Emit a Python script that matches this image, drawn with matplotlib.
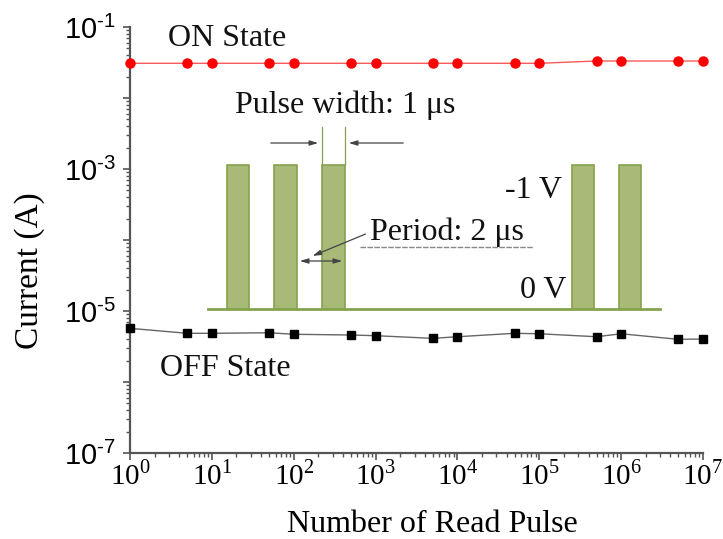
import numpy as np
import matplotlib
matplotlib.use("Agg")
import matplotlib.pyplot as plt
from matplotlib.patches import Rectangle
from matplotlib.ticker import LogLocator, NullFormatter

plt.rcParams['font.family'] = ['Liberation Serif', 'DejaVu Serif']
plt.rcParams['mathtext.fontset'] = 'custom'
plt.rcParams['mathtext.rm'] = 'Liberation Serif'

# read pulses and currents
pulses = [1, 5, 10, 50, 100, 500, 1e3, 5e3, 1e4, 5e4, 1e5, 5e5, 1e6, 5e6, 1e7]
on_current = [3.08e-2, 3.08e-2, 3.08e-2, 3.08e-2, 3.08e-2, 3.08e-2, 3.08e-2, 3.08e-2,
              3.08e-2, 3.08e-2, 3.08e-2, 3.32e-2, 3.32e-2, 3.32e-2, 3.32e-2]
off_current = [5.7e-6, 4.85e-6, 4.85e-6, 4.94e-6, 4.70e-6, 4.59e-6, 4.49e-6, 4.12e-6,
               4.34e-6, 4.85e-6, 4.78e-6, 4.34e-6, 4.78e-6, 3.99e-6, 4.03e-6]

x_exp = list(range(0, 8))
y_exp = list(range(-7, 0))
y_labelled = [-7, -5, -3, -1]

W, H = 723, 539
fig = plt.figure(figsize=(W / 100, H / 100), dpi=100)
L, R, T, B = 130, 703, 27, 453
ax = fig.add_axes([L / W, 1 - B / H, (R - L) / W, (B - T) / H])


def px(x, y):
    # pixel position in the picture -> axes fraction
    return (x - L) / (R - L), (B - y) / (B - T)


ax.plot(pulses, on_current, '-', color='#ff5a5a', lw=1, zorder=4)
ax.plot(pulses, on_current, 'o', color='#ff0000', ms=6.5, zorder=5, clip_on=False)
ax.plot(pulses, off_current, '-', color='#666666', lw=1, zorder=4)
ax.plot(pulses, off_current, 's', color='#000000', ms=6, zorder=5, clip_on=False)

ax.set_xscale('log')
ax.set_yscale('log')
ax.set_xlim(1, 1e7)
ax.set_ylim(1e-7, 1e-1)

ax.set_xticks([10.0 ** k for k in x_exp])
ax.set_xticklabels([r'10$^{\mathregular{%d}}$' % k for k in x_exp], fontsize=21)
ax.xaxis.set_minor_locator(LogLocator(base=10, subs=np.arange(2, 10), numticks=20))
ax.xaxis.set_minor_formatter(NullFormatter())

ax.set_yticks([10.0 ** k for k in y_exp])
ylabels = [('10$^{\\mathregular{\u2010%d}}$' % -k) if k in y_labelled else '' for k in y_exp]
ax.set_yticklabels(ylabels, fontsize=21, fontfamily=['Liberation Sans', 'DejaVu Sans'])
ax.yaxis.set_minor_locator(LogLocator(base=10, subs=np.arange(2, 10), numticks=20))
ax.yaxis.set_minor_formatter(NullFormatter())

for s in ('top', 'right'):
    ax.spines[s].set_visible(False)
for s in ('left', 'bottom'):
    ax.spines[s].set_color('#555555')
    ax.spines[s].set_linewidth(1.6)
ax.tick_params(which='major', direction='out', length=5, width=1.2, color='#555555')
ax.tick_params(which='minor', direction='out', length=3, width=1.0, color='#555555')
ax.tick_params(axis='y', pad=5)
ax.tick_params(axis='x', pad=0)

fig.text(432 / W, 1 - 525 / H, 'Number of Read Pulse', fontsize=23, ha='center', va='center')
fig.text(30 / W, 1 - 271 / H, 'Current (A)', fontsize=24, ha='center', va='center',
         rotation=90)

tx = dict(transform=ax.transAxes, fontsize=23, color='#111111')
ax.text(*px(168, 38), 'ON State', va='center', ha='left', **tx)
ax.text(*px(160, 368), 'OFF State', va='center', ha='left', **tx)

# pulse train sketch
fill_c, edge_c = '#a8b978', '#86a24c'
base_y = 309
top_y = 165
for x0, x1 in [(227, 249), (274, 297), (322, 345), (572, 594), (619, 641)]:
    (a0, b0), (a1, b1) = px(x0, base_y), px(x1, top_y)
    ax.add_patch(Rectangle((a0, b0), a1 - a0, b1 - b0, transform=ax.transAxes,
                           facecolor=fill_c, edgecolor=edge_c, lw=1.2, zorder=3))
ax.plot(*zip(px(208, base_y), px(660, base_y)), transform=ax.transAxes,
        color=edge_c, lw=2, zorder=3)
for xv in (322, 345):
    ax.plot(*zip(px(xv, top_y), px(xv, 127)), transform=ax.transAxes,
            color=edge_c, lw=0.9, zorder=3)

arrow = dict(arrowstyle='-|>,head_length=0.5,head_width=0.15', color='#444444', lw=0.9)
ax.annotate('', xy=px(321, 143), xytext=px(268, 143), xycoords='axes fraction',
            textcoords='axes fraction', arrowprops=arrow)
ax.annotate('', xy=px(346, 143), xytext=px(406, 143), xycoords='axes fraction',
            textcoords='axes fraction', arrowprops=arrow)
ax.annotate('', xy=px(297, 261), xytext=px(345, 261), xycoords='axes fraction',
            textcoords='axes fraction',
            arrowprops=dict(arrowstyle='<|-|>,head_length=0.5,head_width=0.15',
                            color='#444444', lw=0.9))
ax.annotate('', xy=px(310, 257), xytext=px(368, 233), xycoords='axes fraction',
            textcoords='axes fraction', arrowprops=arrow)
ax.plot(*zip(px(360, 247), px(533, 247)), transform=ax.transAxes,
        color='#888888', lw=1, ls=(0, (4, 1)), zorder=3)

ax.text(*px(235, 105), 'Pulse width: 1 \u03bcs', va='center', ha='left', **tx)
ax.text(*px(370, 232), 'Period: 2 \u03bcs', va='center', ha='left', **tx)
ax.text(*px(562, 190), '-1 V', va='center', ha='right', **tx)
ax.text(*px(567, 290), '0 V', va='center', ha='right', **tx)

fig.savefig('out.png', dpi=100)
